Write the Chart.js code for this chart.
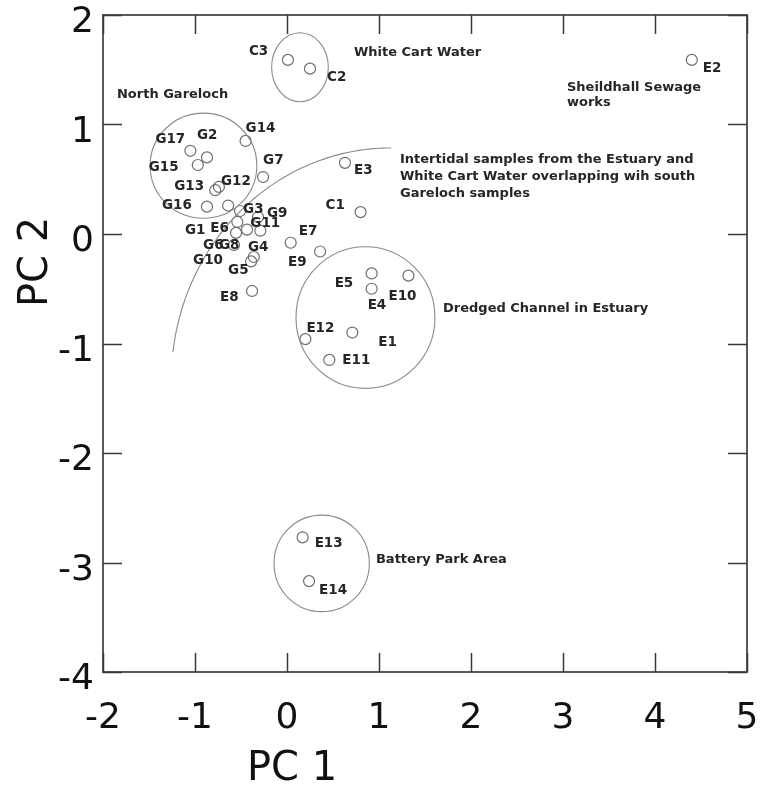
<!DOCTYPE html>
<html>
<head>
<meta charset="utf-8">
<script src="https://cdn.jsdelivr.net/npm/chart.js@4.4.1/dist/chart.umd.min.js"></script>
<style>
  html, body { margin: 0; padding: 0; background: #ffffff; }
  canvas { display: block; }
</style>
</head>
<body>
<canvas id="pca" width="769" height="790" style="width:769px;height:790px"></canvas>
<script>
// Sample scores on the first two principal components
const sampleNames = [
  'G1','G2','G3','G4','G5','G6','G7','G8','G9','G10','G11','G12','G13','G14','G15','G16','G17',
  'E1','E2','E3','E4','E5','E6','E7','E8','E9','E10','E11','E12','E13','E14',
  'C1','C2','C3'
];
const pc1Scores = [
  -0.554, -0.87, -0.51, -0.36, -0.39, -0.64, -0.26, -0.435, -0.315, -0.575, -0.29, -0.74, -0.78, -0.45, -0.97, -0.87, -1.05,
  0.71, 4.40, 0.63, 0.92, 0.92, -0.54, 0.04, -0.38, 0.36, 1.32, 0.46, 0.20, 0.17, 0.24,
  0.80, 0.25, 0.01
];
const pc2Scores = [
  0.01, 0.70, 0.21, -0.21, -0.25, 0.26, 0.52, 0.04, 0.155, -0.10, 0.03, 0.43, 0.40, 0.85, 0.63, 0.25, 0.76,
  -0.90, 1.59, 0.65, -0.50, -0.36, 0.11, -0.08, -0.52, -0.16, -0.38, -1.15, -0.96, -2.77, -3.17,
  0.20, 1.51, 1.59
];

// Axis ranges
const pc1Range = [-2, 5];
const pc2Range = [-4, 2];

// Where each sample name sits relative to its marker (pixels)
const labelDx = [
  -51, -10, 3, -6, -23, -25, 0, -28, 9, -41, -10, 2, -41, 0, -49, -45, -35,
  26, 11, 9, -4, -37, -27, 8, -32, -32, -20, 13, 1, 12, 10,
  -35, 17, -39
];
const labelDy = [
  -2, -22, -2, -9, 9, 40, -17, 16, -4, 16, -7, -5, -4, -12, 2, -1, -11,
  10, 9, 8, 17, 10, 7, -11, 7, 11, 21, 1, -11, 6, 9,
  -7, 9, -8
];

// Sample groupings outlined as ellipses (PC units)
const groupCentreX = [-0.908, 0.141, 0.853, 0.377];
const groupCentreY = [0.624, 1.523, -0.763, -3.008];
const groupRadiusX = [0.58, 0.308, 0.755, 0.518];
const groupRadiusY = [0.48, 0.315, 0.647, 0.441];

// Boundary of the intertidal group (elliptical arc, PC units, degrees)
const arcCentre = [1.13, -1.333];
const arcRadius = [2.387, 2.119];
const arcSweep = [173.1, 90];

// Group descriptions, anchored at their left edge (PC units)
const noteLines = [
  'North Gareloch',
  'White Cart Water',
  'Sheildhall Sewage',
  'works',
  'Intertidal samples from the Estuary and',
  'White Cart Water overlapping wih south',
  'Gareloch samples',
  'Dredged Channel in Estuary',
  'Battery Park Area'
];
const noteX = [-1.848, 0.728, 3.043, 3.043, 1.228, 1.228, 1.228, 1.696, 0.967];
const noteY = [1.269, 1.653, 1.333, 1.196, 0.676, 0.521, 0.365, -0.685, -2.977];

const points = pc1Scores.map((x, i) => ({ x: x, y: pc2Scores[i] }));

const TEXT_COLOUR = '#262626';
const LINE_COLOUR = '#8a8a8a';

const overlay = {
  id: 'overlay',
  afterDatasetsDraw(chart) {
    const { ctx, scales: { x, y } } = chart;
    ctx.save();

    // group ellipses
    ctx.strokeStyle = LINE_COLOUR;
    ctx.lineWidth = 1.1;
    groupCentreX.forEach((cx, i) => {
      const px = x.getPixelForValue(cx);
      const py = y.getPixelForValue(groupCentreY[i]);
      const rx = Math.abs(x.getPixelForValue(cx + groupRadiusX[i]) - px);
      const ry = Math.abs(y.getPixelForValue(groupCentreY[i] + groupRadiusY[i]) - py);
      ctx.beginPath();
      ctx.ellipse(px, py, rx, ry, 0, 0, Math.PI * 2);
      ctx.stroke();
    });

    // intertidal boundary arc
    ctx.beginPath();
    const steps = 80;
    for (let s = 0; s <= steps; s++) {
      const deg = arcSweep[0] + (arcSweep[1] - arcSweep[0]) * s / steps;
      const r = deg * Math.PI / 180;
      const px = x.getPixelForValue(arcCentre[0] + arcRadius[0] * Math.cos(r));
      const py = y.getPixelForValue(arcCentre[1] + arcRadius[1] * Math.sin(r));
      if (s === 0) ctx.moveTo(px, py); else ctx.lineTo(px, py);
    }
    ctx.stroke();

    // sample names
    ctx.fillStyle = TEXT_COLOUR;
    ctx.textBaseline = 'middle';
    ctx.textAlign = 'left';
    ctx.font = 'bold 13.5px "DejaVu Sans"';
    points.forEach((p, i) => {
      const px = x.getPixelForValue(p.x);
      const py = y.getPixelForValue(p.y);
      ctx.fillText(sampleNames[i], px + labelDx[i], py + labelDy[i]);
    });

    // group descriptions
    ctx.font = 'bold 13px "DejaVu Sans"';
    noteLines.forEach((t, i) => {
      ctx.fillText(t, x.getPixelForValue(noteX[i]), y.getPixelForValue(noteY[i]));
    });
    ctx.restore();
  },
  afterDraw(chart) {
    const { ctx, chartArea: a, scales: { x, y } } = chart;
    ctx.save();
    // frame
    ctx.strokeStyle = '#5a5a5a';
    ctx.lineWidth = 2;
    ctx.strokeRect(a.left, a.top, a.right - a.left, a.bottom - a.top);

    // inward tick marks on all four sides
    const len = 19;
    ctx.strokeStyle = '#3a3a3a';
    ctx.lineWidth = 1.5;
    ctx.beginPath();
    x.ticks.forEach(t => {
      const px = Math.round(x.getPixelForValue(t.value)) + 0.5;
      ctx.moveTo(px, a.bottom); ctx.lineTo(px, a.bottom - len);
      ctx.moveTo(px, a.top); ctx.lineTo(px, a.top + len);
    });
    y.ticks.forEach(t => {
      const py = Math.round(y.getPixelForValue(t.value)) + 0.5;
      ctx.moveTo(a.left, py); ctx.lineTo(a.left + len, py);
      ctx.moveTo(a.right, py); ctx.lineTo(a.right - len, py);
    });
    ctx.stroke();

    // axis titles
    ctx.fillStyle = '#111111';
    ctx.font = '40px "DejaVu Sans"';
    ctx.textAlign = 'center';
    ctx.textBaseline = 'middle';
    ctx.fillText('PC 1', a.left + 189, a.bottom + 98);
    ctx.translate(a.left - 66, a.top + 247);
    ctx.rotate(-Math.PI / 2);
    ctx.fillText('PC 2', 0, 0);
    ctx.restore();
  }
};

const tickFont = { family: '"DejaVu Sans"', size: 36 };

// keep the plot frame fixed: no extra room reserved for overhanging end labels
function clearOverhang(s) {
  s.paddingTop = 0; s.paddingBottom = 0; s.paddingLeft = 0; s.paddingRight = 0;
}

new Chart(document.getElementById('pca'), {
  type: 'scatter',
  data: {
    datasets: [{
      data: points,
      pointStyle: 'circle',
      pointRadius: 5.5,
      pointHoverRadius: 5.5,
      pointBackgroundColor: 'rgba(255,255,255,0)',
      pointBorderColor: '#6e6e6e',
      pointBorderWidth: 1.2
    }]
  },
  options: {
    responsive: false,
    animation: false,
    devicePixelRatio: 1,
    events: [],
    layout: { padding: { top: 15, right: 22, left: 0, bottom: 0 } },
    plugins: { legend: { display: false }, tooltip: { enabled: false } },
    scales: {
      x: {
        type: 'linear',
        min: pc1Range[0],
        max: pc1Range[1],
        grid: { display: false, drawTicks: false },
        border: { display: false },
        ticks: { stepSize: 1, font: tickFont, color: '#111111', padding: 25, maxRotation: 0 },
        afterFit(s) { s.height = 118; clearOverhang(s); }
      },
      y: {
        type: 'linear',
        min: pc2Range[0],
        max: pc2Range[1],
        grid: { display: false, drawTicks: false },
        border: { display: false },
        ticks: { stepSize: 1, font: tickFont, color: '#111111', padding: 9, labelOffset: 8 },
        afterFit(s) { s.width = 103; clearOverhang(s); }
      }
    }
  },
  plugins: [overlay]
});
</script>
</body>
</html>
